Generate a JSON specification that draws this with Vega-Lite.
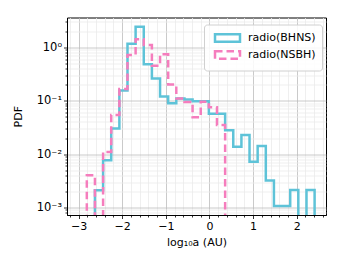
{
  "$schema": "https://vega.github.io/schema/vega-lite/v6.json",
  "autosize": "none",
  "padding": {"left": 67, "top": 17.5, "right": 17, "bottom": 58},
  "width": 259,
  "height": 197.5,
  "config": {
    "font": "DejaVu Sans",
    "view": {"stroke": "#000000", "strokeWidth": 1},
    "axis": {
      "domainColor": "#000000",
      "tickColor": "#000000",
      "labelColor": "#000000",
      "titleColor": "#000000",
      "labelFont": "DejaVu Sans",
      "titleFont": "DejaVu Sans",
      "labelFontSize": 11,
      "titleFontSize": 11,
      "titleFontWeight": "normal",
      "tickWidth": 0.8,
      "domainWidth": 1
    }
  },
  "data": {
    "values": [
      {"series": "radio(BHNS)", "i": 0, "x": -2.624, "pdf": 0.00001},
      {"series": "radio(BHNS)", "i": 1, "x": -2.624, "pdf": 0.0021},
      {"series": "radio(BHNS)", "i": 2, "x": -2.437, "pdf": 0.0077},
      {"series": "radio(BHNS)", "i": 3, "x": -2.251, "pdf": 0.030},
      {"series": "radio(BHNS)", "i": 4, "x": -2.064, "pdf": 0.155},
      {"series": "radio(BHNS)", "i": 5, "x": -1.878, "pdf": 1.17},
      {"series": "radio(BHNS)", "i": 6, "x": -1.692, "pdf": 2.42},
      {"series": "radio(BHNS)", "i": 7, "x": -1.505, "pdf": 0.48},
      {"series": "radio(BHNS)", "i": 8, "x": -1.319, "pdf": 0.26},
      {"series": "radio(BHNS)", "i": 9, "x": -1.132, "pdf": 0.12},
      {"series": "radio(BHNS)", "i": 10, "x": -0.946, "pdf": 0.09},
      {"series": "radio(BHNS)", "i": 11, "x": -0.760, "pdf": 0.11},
      {"series": "radio(BHNS)", "i": 12, "x": -0.573, "pdf": 0.105},
      {"series": "radio(BHNS)", "i": 13, "x": -0.387, "pdf": 0.098},
      {"series": "radio(BHNS)", "i": 14, "x": -0.200, "pdf": 0.098},
      {"series": "radio(BHNS)", "i": 15, "x": -0.014, "pdf": 0.057},
      {"series": "radio(BHNS)", "i": 16, "x": 0.172, "pdf": 0.057},
      {"series": "radio(BHNS)", "i": 17, "x": 0.359, "pdf": 0.028},
      {"series": "radio(BHNS)", "i": 18, "x": 0.545, "pdf": 0.0138},
      {"series": "radio(BHNS)", "i": 19, "x": 0.732, "pdf": 0.0228},
      {"series": "radio(BHNS)", "i": 20, "x": 0.918, "pdf": 0.0072},
      {"series": "radio(BHNS)", "i": 21, "x": 1.104, "pdf": 0.0142},
      {"series": "radio(BHNS)", "i": 22, "x": 1.291, "pdf": 0.0032},
      {"series": "radio(BHNS)", "i": 23, "x": 1.477, "pdf": 0.00107},
      {"series": "radio(BHNS)", "i": 24, "x": 1.664, "pdf": 0.00107},
      {"series": "radio(BHNS)", "i": 25, "x": 1.850, "pdf": 0.00213},
      {"series": "radio(BHNS)", "i": 26, "x": 2.036, "pdf": 0.00001},
      {"series": "radio(BHNS)", "i": 27, "x": 2.223, "pdf": 0.00213},
      {"series": "radio(BHNS)", "i": 28, "x": 2.409, "pdf": 0.00001},
      {"series": "radio(NSBH)", "i": 0, "x": -2.810, "pdf": 0.00001},
      {"series": "radio(NSBH)", "i": 1, "x": -2.810, "pdf": 0.004},
      {"series": "radio(NSBH)", "i": 2, "x": -2.624, "pdf": 0.00001},
      {"series": "radio(NSBH)", "i": 3, "x": -2.437, "pdf": 0.011},
      {"series": "radio(NSBH)", "i": 4, "x": -2.251, "pdf": 0.054},
      {"series": "radio(NSBH)", "i": 5, "x": -2.064, "pdf": 0.165},
      {"series": "radio(NSBH)", "i": 6, "x": -1.878, "pdf": 0.72},
      {"series": "radio(NSBH)", "i": 7, "x": -1.692, "pdf": 1.42},
      {"series": "radio(NSBH)", "i": 8, "x": -1.505, "pdf": 1.1},
      {"series": "radio(NSBH)", "i": 9, "x": -1.319, "pdf": 0.45},
      {"series": "radio(NSBH)", "i": 10, "x": -1.132, "pdf": 0.74},
      {"series": "radio(NSBH)", "i": 11, "x": -0.946, "pdf": 0.2},
      {"series": "radio(NSBH)", "i": 12, "x": -0.760, "pdf": 0.11},
      {"series": "radio(NSBH)", "i": 13, "x": -0.573, "pdf": 0.095},
      {"series": "radio(NSBH)", "i": 14, "x": -0.387, "pdf": 0.049},
      {"series": "radio(NSBH)", "i": 15, "x": -0.200, "pdf": 0.096},
      {"series": "radio(NSBH)", "i": 16, "x": -0.014, "pdf": 0.075},
      {"series": "radio(NSBH)", "i": 17, "x": 0.172, "pdf": 0.035},
      {"series": "radio(NSBH)", "i": 18, "x": 0.359, "pdf": 0.00001}
    ]
  },
  "mark": {"type": "line", "interpolate": "step-after", "clip": true, "strokeWidth": 2.5},
  "encoding": {
    "x": {
      "field": "x",
      "type": "quantitative",
      "scale": {"domain": [-3.264, 2.67], "nice": false, "zero": false},
      "axis": {
        "title": "log₁₀a (AU)",
        "titlePadding": 5,
        "values": [-3.2, -3, -2.8, -2.6, -2.4, -2.2, -2, -1.8, -1.6, -1.4, -1.2, -1, -0.8, -0.6, -0.4, -0.2, 0, 0.2, 0.4, 0.6, 0.8, 1, 1.2, 1.4, 1.6, 1.8, 2, 2.2, 2.4, 2.6],
        "labelExpr": "abs(datum.value - round(datum.value)) < 0.01 ? format(round(datum.value), 'd') : ''",
        "labelPadding": 2,
        "labelFlush": false,
        "labelOverlap": false,
        "grid": true,
        "gridColor": {"condition": {"test": "abs(datum.value - round(datum.value)) < 0.01", "value": "#bdbdbd"}, "value": "#ebebeb"},
        "gridWidth": 0.8,
        "tickSize": {"condition": {"test": "abs(datum.value - round(datum.value)) < 0.01", "value": 3.5}, "value": 2}
      }
    },
    "y": {
      "field": "pdf",
      "type": "quantitative",
      "scale": {"type": "log", "domain": [0.000724, 3.61], "nice": false},
      "axis": {
        "title": "PDF",
        "titlePadding": 13,
        "labelFontSize": 11.5,
        "values": [0.0008, 0.0009, 0.001, 0.002, 0.003, 0.004, 0.005, 0.006, 0.007, 0.008, 0.009, 0.01, 0.02, 0.03, 0.04, 0.05, 0.06, 0.07, 0.08, 0.09, 0.1, 0.2, 0.3, 0.4, 0.5, 0.6, 0.7, 0.8, 0.9, 1, 2, 3],
        "labelExpr": "datum.value == 1 ? '10⁰' : datum.value == 0.1 ? '10⁻¹' : datum.value == 0.01 ? '10⁻²' : datum.value == 0.001 ? '10⁻³' : ''",
        "labelPadding": 2,
        "labelOverlap": false,
        "labelFlush": false,
        "grid": true,
        "gridColor": {"condition": {"test": "datum.value == 1 || datum.value == 0.1 || datum.value == 0.01 || datum.value == 0.001", "value": "#bdbdbd"}, "value": "#ebebeb"},
        "gridWidth": 0.8,
        "tickSize": {"condition": {"test": "datum.value == 1 || datum.value == 0.1 || datum.value == 0.01 || datum.value == 0.001", "value": 3.5}, "value": 2}
      }
    },
    "color": {
      "field": "series",
      "type": "nominal",
      "scale": {"domain": ["radio(BHNS)", "radio(NSBH)"], "range": ["#5ec3d8", "#f57dbd"]},
      "legend": {
        "title": null,
        "orient": "none",
        "legendX": 137,
        "legendY": 7,
        "symbolType": "M-2,-0.6H2V0.6H-2Z",
        "symbolSize": 156,
        "symbolStrokeWidth": 2.5,
        "symbolFillColor": "transparent",
        "symbolOffset": 10,
        "labelOffset": 13,
        "labelFontSize": 11,
        "labelFont": "DejaVu Sans",
        "labelColor": "#000000",
        "rowPadding": -2,
        "padding": 6,
        "strokeColor": "#d0d0d0",
        "fillColor": "rgba(255,255,255,0.85)",
        "cornerRadius": 3
      }
    },
    "strokeDash": {
      "field": "series",
      "type": "nominal",
      "scale": {"domain": ["radio(BHNS)", "radio(NSBH)"], "range": [[1, 0], [7.5, 4]]},
      "legend": null
    },
    "order": {"field": "i", "type": "quantitative"}
  }
}
